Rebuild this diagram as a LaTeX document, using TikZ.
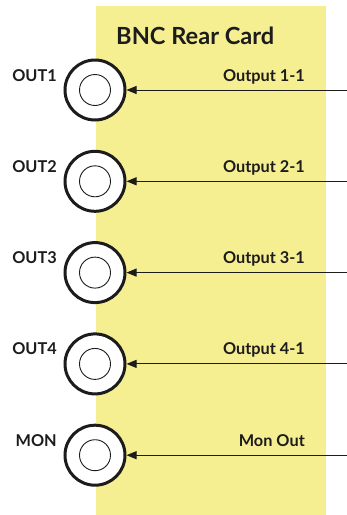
\documentclass[tikz,border=0pt]{standalone}
\usepackage{fontspec}
\setmainfont{Lato}
\usetikzlibrary{arrows.meta}
\definecolor{cardyellow}{HTML}{F6EF92}
\definecolor{ink}{HTML}{1C1C1C}
\begin{document}
\begin{tikzpicture}[x=1pt,y=-1pt,
  jack/.style={circle,draw=ink,line width=3pt,fill=white,minimum size=60pt,inner sep=0pt},
  hole/.style={circle,draw=ink,line width=0.9pt,fill=white,minimum size=31pt,inner sep=0pt},
  portlbl/.style={anchor=base east,font=\bfseries\fontsize{16.3}{16}\selectfont,text=ink,inner sep=0pt},
  siglbl/.style={anchor=base east,font=\bfseries\fontsize{16.3}{16}\selectfont,text=ink,inner sep=0pt},
  sig/.style={draw=ink,line width=1pt,-{Triangle[length=10pt,width=8pt]}}]
\useasboundingbox (0,0) rectangle (347,515);
\fill[cardyellow] (96,6) rectangle (326,515);
\node[anchor=base west,font=\bfseries\fontsize{23.6}{24}\selectfont,text=ink,inner sep=0pt] (title) at (116,44) {BNC Rear Card};
\foreach \i/\p/\s [count=\k from 0] in {1/OUT1/Output 1-1,2/OUT2/Output 2-1,3/OUT3/Output 3-1,4/OUT4/Output 4-1,5/MON/Mon Out}{
  \pgfmathsetmacro\cy{90+91.3*\k}
  \node[jack] (j\i) at (95,\cy) {};
  \node[hole] (h\i) at (j\i.center) {};
  \node[portlbl] (p\i) at (57,\cy-9) {\p};
  \node[siglbl] (s\i) at (305,\cy-9) {\s};
  \coordinate (e\i) at (347,\cy);
  \draw[sig] (e\i) -- (j\i.east);
}
\end{tikzpicture}
\end{document}
